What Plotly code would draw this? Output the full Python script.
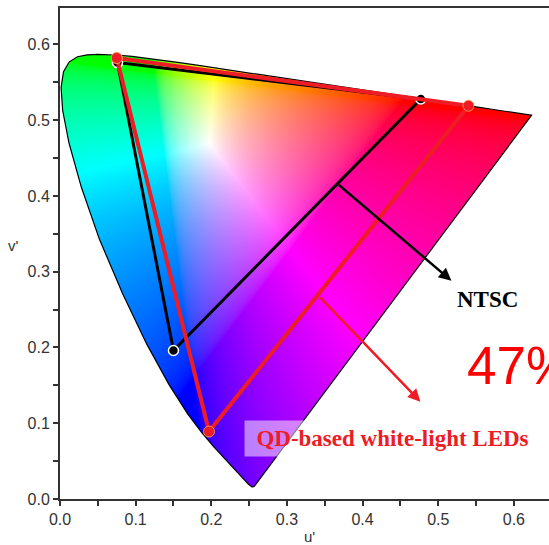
import base64
import struct
import zlib

import numpy as np
import plotly.graph_objects as go

# CIE 1931 2-degree spectral locus (wavelength in nm, chromaticity x, y)
wavelength_nm = [380, 385, 390, 395, 400, 405, 410, 415, 420, 425, 430, 435, 440,
                 445, 450, 455, 460, 465, 470, 475, 480, 485, 490, 495, 500, 505,
                 510, 515, 520, 525, 530, 535, 540, 545, 550, 555, 560, 565, 570,
                 575, 580, 585, 590, 595, 600, 605, 610, 615, 620, 625, 630, 635,
                 640, 645, 650, 660, 670, 680, 700]
locus_x = [0.1741, 0.1740, 0.1738, 0.1736, 0.1733, 0.1730, 0.1726, 0.1721, 0.1714,
           0.1703, 0.1689, 0.1669, 0.1644, 0.1611, 0.1566, 0.1510, 0.1440, 0.1355,
           0.1241, 0.1096, 0.0913, 0.0687, 0.0454, 0.0235, 0.0082, 0.0039, 0.0139,
           0.0389, 0.0743, 0.1142, 0.1547, 0.1929, 0.2296, 0.2658, 0.3016, 0.3373,
           0.3731, 0.4087, 0.4441, 0.4788, 0.5125, 0.5448, 0.5752, 0.6029, 0.6270,
           0.6482, 0.6658, 0.6801, 0.6915, 0.7006, 0.7079, 0.7140, 0.7190, 0.7230,
           0.7260, 0.7300, 0.7320, 0.7334, 0.7347]
locus_y = [0.0050, 0.0050, 0.0049, 0.0049, 0.0048, 0.0048, 0.0048, 0.0048, 0.0051,
           0.0058, 0.0069, 0.0086, 0.0109, 0.0138, 0.0177, 0.0227, 0.0297, 0.0399,
           0.0578, 0.0868, 0.1327, 0.2007, 0.2950, 0.4127, 0.5384, 0.6548, 0.7502,
           0.8120, 0.8338, 0.8262, 0.8059, 0.7816, 0.7543, 0.7243, 0.6923, 0.6589,
           0.6245, 0.5896, 0.5547, 0.5202, 0.4866, 0.4544, 0.4242, 0.3965, 0.3725,
           0.3514, 0.3340, 0.3197, 0.3083, 0.2993, 0.2920, 0.2859, 0.2809, 0.2770,
           0.2740, 0.2700, 0.2680, 0.2666, 0.2653]

# Gamut triangles in CIE 1976 (u', v'): green, red, blue primaries
ntsc_u = [0.076, 0.477, 0.150]
ntsc_v = [0.576, 0.528, 0.196]
qd_u = [0.075, 0.540, 0.197]
qd_v = [0.582, 0.519, 0.089]

# Axis ticks
tick_vals = [0.0, 0.1, 0.2, 0.3, 0.4, 0.5, 0.6]
tick_text = ["0.0", "0.1", "0.2", "0.3", "0.4", "0.5", "0.6"]

U_MAX = 0.6464
V_MAX = 0.648
RED = "#ee1c24"


def xy_to_uv(x, y):
    x = np.asarray(x, float)
    y = np.asarray(y, float)
    d = -2 * x + 12 * y + 3
    return 4 * x / d, 9 * y / d


loc_u, loc_v = xy_to_uv(locus_x, locus_y)


def chromaticity_image(res, extent):
    """RGBA raster of the u'v' plane coloured by chromaticity, clipped to the locus."""
    c = (np.arange(res) + 0.5) / res * extent
    U, V = np.meshgrid(c, extent - c)  # top row first
    d = 6 * U - 16 * V + 12
    x = 9 * U / d
    y = np.maximum(4 * V / d, 1e-6)
    X = x / y
    Z = (1 - x - y) / y
    r = 3.2406 * X - 1.5372 - 0.4986 * Z
    g = -0.9689 * X + 1.8758 + 0.0415 * Z
    b = 0.0557 * X - 0.2040 + 1.0570 * Z
    rgb = np.clip(np.stack([r, g, b], -1), 0, None)
    rgb /= np.maximum(rgb.max(-1, keepdims=True), 1e-9)
    rgb = np.where(rgb <= 0.0031308, 12.92 * rgb, 1.055 * rgb ** (1 / 2.4) - 0.055)

    inside = np.zeros(U.shape, bool)
    n = len(loc_u)
    j = n - 1
    for i in range(n):
        ui, vi, uj, vj = loc_u[i], loc_v[i], loc_u[j], loc_v[j]
        dv = vj - vi if vj != vi else 1e-12
        cross = ((vi > V) != (vj > V)) & (U < (uj - ui) * (V - vi) / dv + ui)
        inside ^= cross
        j = i
    rgba = np.zeros(U.shape + (4,), np.uint8)
    rgba[..., :3] = np.round(np.clip(rgb, 0, 1) * 255).astype(np.uint8)
    rgba[..., 3] = np.where(inside, 255, 0).astype(np.uint8)
    return rgba


def png_data_uri(rgba):
    h, w, _ = rgba.shape
    raw = b"".join(b"\x00" + rgba[i].tobytes() for i in range(h))

    def chunk(tag, data):
        body = tag + data
        return struct.pack(">I", len(data)) + body + struct.pack(">I", zlib.crc32(body) & 0xFFFFFFFF)

    png = (b"\x89PNG\r\n\x1a\n"
           + chunk(b"IHDR", struct.pack(">IIBBBBB", w, h, 8, 6, 0, 0, 0))
           + chunk(b"IDAT", zlib.compress(raw, 9))
           + chunk(b"IEND", b""))
    return "data:image/png;base64," + base64.b64encode(png).decode()


EXTENT = 0.65
img_src = png_data_uri(chromaticity_image(980, EXTENT))

fig = go.Figure()

# Spectral locus outline (closed by the line of purples)
fig.add_trace(go.Scatter(
    x=list(loc_u) + [loc_u[0]], y=list(loc_v) + [loc_v[0]],
    mode="lines", line=dict(color="black", width=1.2),
    hoverinfo="skip", showlegend=False))

# NTSC gamut
fig.add_trace(go.Scatter(
    x=ntsc_u + [ntsc_u[0]], y=ntsc_v + [ntsc_v[0]],
    mode="lines+markers", line=dict(color="black", width=3),
    marker=dict(size=10, color="black", line=dict(color="white", width=1.5)),
    name="NTSC", showlegend=False))

# QD-based white-light LED gamut
fig.add_trace(go.Scatter(
    x=qd_u + [qd_u[0]], y=qd_v + [qd_v[0]],
    mode="lines+markers", line=dict(color=RED, width=4),
    marker=dict(size=11, color=RED, line=dict(color="rgba(235,170,90,0.8)", width=1)),
    name="QD-based white-light LEDs", showlegend=False))

axis_common = dict(
    showgrid=False, zeroline=False, showline=True,
    linecolor="#333", linewidth=2,
    ticks="outside", ticklen=5, tickwidth=1.5, tickcolor="#333",
    tickvals=tick_vals, ticktext=tick_text,
    tickfont=dict(family="Arial, Liberation Sans, sans-serif", size=16, color="#333"),
    minor=dict(tickvals=[0.05, 0.15, 0.25, 0.35, 0.45, 0.55],
               ticks="outside", ticklen=5, tickwidth=1.5, tickcolor="#333"),
)

fig.update_layout(
    width=549, height=545,
    margin=dict(l=60, r=0, t=8, b=46),
    paper_bgcolor="white", plot_bgcolor="white",
    xaxis=dict(range=[0, U_MAX], mirror=True, **axis_common),
    yaxis=dict(range=[0, V_MAX], **axis_common),
    images=[dict(source=img_src, xref="x", yref="y", x=0, y=EXTENT,
                 sizex=EXTENT, sizey=EXTENT, sizing="stretch",
                 xanchor="left", yanchor="top", layer="below")],
    showlegend=False,
)

axis_font = dict(family="Arial, Liberation Sans, sans-serif", size=15, color="#333")
serif_bold = "Times New Roman, Liberation Serif, serif"

annotations = [
    dict(text="u'", xref="x", yref="paper", x=0.33, y=-0.077,
         showarrow=False, font=axis_font, xanchor="center", yanchor="middle"),
    dict(text="v'", xref="paper", yref="paper", x=-0.096, y=0.517,
         showarrow=False, font=axis_font, xanchor="center", yanchor="middle"),
    # pointer to the NTSC triangle
    dict(text="", x=0.5174, y=0.2881, ax=0.3667, ay=0.4160,
         xref="x", yref="y", axref="x", ayref="y",
         showarrow=True, arrowhead=2, arrowsize=1, arrowwidth=2.5,
         arrowcolor="black", standoff=0),
    # pointer to the QD LED triangle
    dict(text="", x=0.4764, y=0.1284, ax=0.342, ay=0.268,
         xref="x", yref="y", axref="x", ayref="y",
         showarrow=True, arrowhead=2, arrowsize=1, arrowwidth=2.5,
         arrowcolor=RED, standoff=0),
    dict(text="<b>NTSC</b>", x=0.5654, y=0.2633, xref="x", yref="y",
         showarrow=False, font=dict(family=serif_bold, size=23, color="black"),
         xanchor="center", yanchor="middle"),
    dict(text="47%", x=0.536, y=0.176, xref="x", yref="y",
         showarrow=False, font=dict(family="Arial, Liberation Sans, sans-serif",
                                    size=53, color="#ff0000"),
         xanchor="left", yanchor="middle"),
    dict(text="<b>QD-based white-light LEDs</b>", x=0.4391, y=0.0798,
         xref="x", yref="y", showarrow=False,
         font=dict(family=serif_bold, size=23, color=RED),
         bgcolor="rgba(255,255,255,0.5)", width=291, height=31, borderpad=2,
         xanchor="center", yanchor="middle"),
]
fig.update_layout(annotations=annotations)

fig.write_html("out.html")
